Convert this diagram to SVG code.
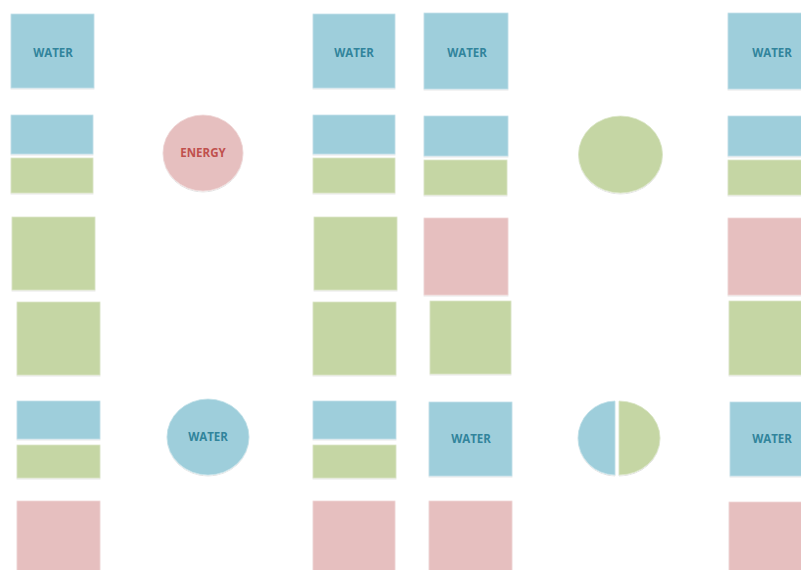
<svg xmlns="http://www.w3.org/2000/svg" width="801" height="570" viewBox="0 0 801 570">
<defs>
<filter id="sh" x="-10%" y="-10%" width="120%" height="125%">
<feDropShadow dx="0" dy="1" stdDeviation="0.7" flood-color="#000" flood-opacity="0.12"/>
</filter>
</defs>
<style>
.b{fill:#9ECEDB;stroke:#C4E2EA;stroke-width:0.8;filter:url(#sh)}
.g{fill:#C5D6A4;stroke:#DCE7C9;stroke-width:0.8;filter:url(#sh)}
.p{fill:#E6BFBF;stroke:#F0D8D8;stroke-width:0.8;filter:url(#sh)}
.t{font-family:"Open Sans","Liberation Sans",sans-serif;font-weight:bold;font-size:11.5px;text-anchor:middle;dominant-baseline:central}
.tw{fill:#31849B}
.te{fill:#C0504D}
</style>
<rect width="801" height="570" fill="#fff"/>
<!-- column 1 -->
<g id="c1-water"><rect class="b" x="11" y="14" width="83" height="74"/><text class="t tw" x="53" y="52.5">WATER</text></g>
<g id="c1-blue"><rect class="b" x="11" y="115" width="82" height="39"/></g>
<g id="c1-green"><rect class="g" x="11" y="158" width="82" height="35"/></g>
<g id="c1-green-sq1"><rect class="g" x="12" y="217" width="83" height="73"/></g>
<g id="c1-green-sq2"><rect class="g" x="17" y="302" width="83" height="73"/></g>
<g id="c1-blue2"><rect class="b" x="17" y="401" width="83" height="38"/></g>
<g id="c1-green2"><rect class="g" x="17" y="445" width="83" height="33"/></g>
<g id="c1-pink"><rect class="p" x="17" y="501" width="83" height="72"/></g>
<!-- circles column -->
<g id="energy"><ellipse class="p" cx="203" cy="153" rx="40" ry="38"/><text class="t te" x="203" y="152.5">ENERGY</text></g>
<g id="water-circle"><ellipse class="b" cx="208" cy="437" rx="41" ry="38"/><text class="t tw" x="208" y="436.5">WATER</text></g>
<!-- column 2 -->
<g id="c2-water"><rect class="b" x="313" y="14" width="82" height="74"/><text class="t tw" x="354" y="52.5">WATER</text></g>
<g id="c2-blue"><rect class="b" x="313" y="115" width="82" height="39"/></g>
<g id="c2-green"><rect class="g" x="313" y="158" width="82" height="35"/></g>
<g id="c2-green-sq1"><rect class="g" x="314" y="217" width="83" height="73"/></g>
<g id="c2-green-sq2"><rect class="g" x="313" y="302" width="83" height="73"/></g>
<g id="c2-blue2"><rect class="b" x="313" y="401" width="83" height="38"/></g>
<g id="c2-green2"><rect class="g" x="313" y="445" width="83" height="33"/></g>
<g id="c2-pink"><rect class="p" x="313" y="501" width="82" height="72"/></g>
<!-- column 3 -->
<g id="c3-water"><rect class="b" x="424" y="13" width="84" height="76"/><text class="t tw" x="467" y="52.5">WATER</text></g>
<g id="c3-blue"><rect class="b" x="424" y="116" width="84" height="40"/></g>
<g id="c3-green"><rect class="g" x="424" y="160" width="83" height="35"/></g>
<g id="c3-pink"><rect class="p" x="424" y="218" width="84" height="77"/></g>
<g id="c3-green-sq"><rect class="g" x="430" y="301" width="81" height="73"/></g>
<g id="c3-water2"><rect class="b" x="429" y="402" width="83" height="74"/><text class="t tw" x="471" y="438.5">WATER</text></g>
<g id="c3-pink2"><rect class="p" x="429" y="501" width="83" height="72"/></g>
<!-- circles column 4 -->
<g id="green-circle"><ellipse class="g" cx="620.5" cy="154.5" rx="42" ry="38.5"/></g>
<g id="split-circle">
<path class="b" d="M615,401 A37.5,37 0 0 0 578,438 A37.5,37 0 0 0 615,475 Z"/>
<path class="g" d="M619,401 A41,37 0 0 1 660,438 A41,37 0 0 1 619,475 Z"/>
</g>
<!-- column 5 -->
<g id="c5-water"><rect class="b" x="728" y="13" width="84" height="76"/><text class="t tw" x="772" y="52.5">WATER</text></g>
<g id="c5-blue"><rect class="b" x="728" y="116" width="84" height="40"/></g>
<g id="c5-green"><rect class="g" x="728" y="160" width="84" height="35"/></g>
<g id="c5-pink"><rect class="p" x="728" y="218" width="84" height="77"/></g>
<g id="c5-green-sq"><rect class="g" x="729" y="301" width="84" height="74"/></g>
<g id="c5-water2"><rect class="b" x="730" y="402" width="84" height="74"/><text class="t tw" x="772" y="438.5">WATER</text></g>
<g id="c5-pink2"><rect class="p" x="729" y="502" width="84" height="71"/></g>
<g id="connectors"></g>
</svg>
